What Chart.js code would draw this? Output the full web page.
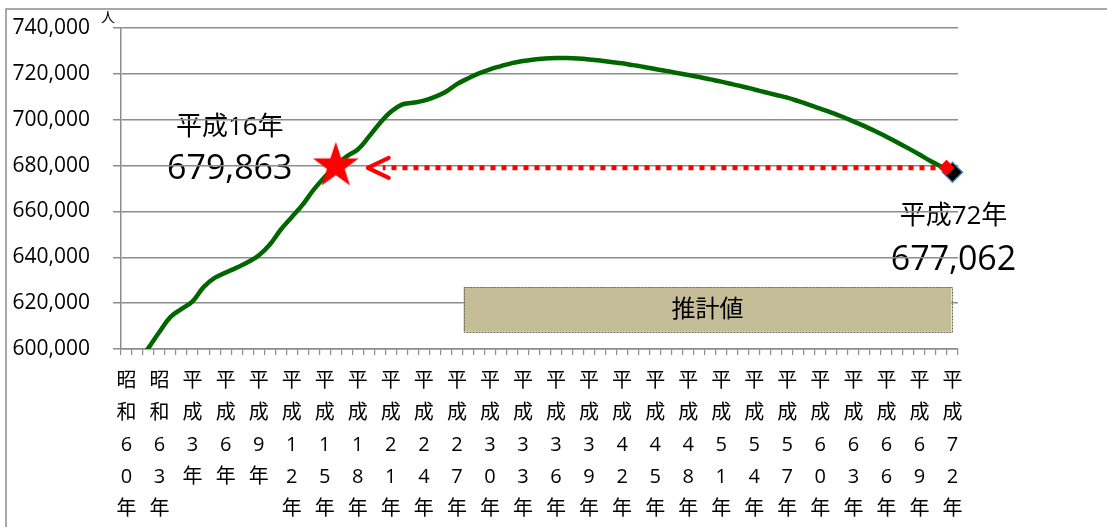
<!DOCTYPE html>
<html><head><meta charset="utf-8">
<script src="https://cdn.jsdelivr.net/npm/chart.js@4.4.1/dist/chart.umd.min.js"></script>
<style>html,body{margin:0;padding:0;background:#fff;overflow:hidden}canvas{display:block}</style>
</head><body>
<canvas id="c" width="1107" height="527"></canvas>
<script>
// ---- data ----
const categories = [
 '昭和60年','昭和61年','昭和62年','昭和63年','平成元年','平成2年','平成3年','平成4年','平成5年','平成6年',
 '平成7年','平成8年','平成9年','平成10年','平成11年','平成12年','平成13年','平成14年','平成15年','平成16年',
 '平成17年','平成18年','平成19年','平成20年','平成21年','平成22年','平成23年','平成24年','平成25年','平成26年',
 '平成27年','平成28年','平成29年','平成30年','平成31年','平成32年','平成33年','平成34年','平成35年','平成36年',
 '平成37年','平成38年','平成39年','平成40年','平成41年','平成42年','平成43年','平成44年','平成45年','平成46年',
 '平成47年','平成48年','平成49年','平成50年','平成51年','平成52年','平成53年','平成54年','平成55年','平成56年',
 '平成57年','平成58年','平成59年','平成60年','平成61年','平成62年','平成63年','平成64年','平成65年','平成66年',
 '平成67年','平成68年','平成69年','平成70年','平成71年','平成72年'
];
const population = [
 588000,594000,600500,607500,614000,617500,620800,627000,631000,633300,
 635500,637800,640800,645500,652000,657500,663000,669500,675000,679863,
 684000,687000,692500,698500,703500,706600,707400,708300,710000,712200,
 715500,718000,720200,722000,723400,724700,725600,726300,726700,726900,
 726900,726700,726300,725800,725200,724600,723800,723000,722100,721300,
 720400,719500,718600,717600,716600,715500,714400,713200,712000,710800,
 709600,708100,706500,704800,703100,701300,699300,697200,695000,692600,
 690100,687500,684800,682000,679500,677062
];
const yTicks = [600000,620000,640000,660000,680000,700000,720000,740000];
const tickEvery = 3;
const unitLabel = '人';
const baseMark = {index: 19, value: 679863, year: '平成16年', text: '679,863'};
const endMark  = {index: 75, value: 677062, year: '平成72年', text: '677,062'};
const arrowValue = 679000;
const estimateLabel = '推計値';
const estimateBox = {from: 30.6, to: 74.9, top: 627000, bottom: 607500};

// ---- styling ----
const FONT = "'Open Sans','Noto Sans CJK JP',sans-serif";
const GRID = '#8c8c8c';
Chart.defaults.font.family = FONT;
Chart.defaults.color = '#000';

function makeStar(R){
  const c = document.createElement('canvas');
  c.width = c.height = 2*R + 2;
  const g = c.getContext('2d');
  g.fillStyle = '#ff0000';
  g.beginPath();
  for (let k = 0; k < 10; k++) {
    const r = k % 2 ? R*0.39 : R;
    const a = -Math.PI/2 + k*Math.PI/5;
    g.lineTo(R+1 + r*Math.cos(a), R+1 + r*Math.sin(a));
  }
  g.closePath(); g.fill();
  return c;
}
const starImg = makeStar(24);

const lastIdx = population.length - 1;

const decor = {
  id: 'decor',
  beforeDraw(chart){
    const {ctx, scales:{x, y}, chartArea} = chart;
    ctx.save();
    // outer frame
    ctx.strokeStyle = GRID; ctx.lineWidth = 1.5;
    ctx.strokeRect(6, 9, 1300, 700);
    // unit
    ctx.fillStyle = '#000'; ctx.textAlign = 'center'; ctx.textBaseline = 'middle';
    ctx.font = '14px ' + FONT;
    ctx.fillText(unitLabel, chartArea.left - 13, chartArea.top - 10);
    // annotations
    const bx = x.getPixelForValue(baseMark.index) - 106;
    const by = y.getPixelForValue(baseMark.value);
    ctx.font = '26px ' + FONT;
    ctx.fillText(baseMark.year, bx, by - 38);
    ctx.font = '34px ' + FONT;
    ctx.fillText(baseMark.text, bx, by + 3);
    const ex = x.getPixelForValue(endMark.index) + 1;
    const ey = y.getPixelForValue(endMark.value);
    ctx.font = '26px ' + FONT;
    ctx.fillText(endMark.year, ex, ey + 44);
    ctx.font = '34px ' + FONT;
    ctx.fillText(endMark.text, ex, ey + 88);
    ctx.restore();
  },
  afterDatasetsDraw(chart){
    const {ctx, scales:{x, y}} = chart;
    ctx.save();
    // estimate box
    const l = x.getPixelForValue(estimateBox.from), r = x.getPixelForValue(estimateBox.to);
    const t = y.getPixelForValue(estimateBox.top), b = y.getPixelForValue(estimateBox.bottom);
    ctx.fillStyle = '#c4bd97';
    ctx.fillRect(l, t, r - l, b - t);
    ctx.strokeStyle = '#6b6650'; ctx.lineWidth = 1; ctx.setLineDash([2,1]);
    ctx.strokeRect(Math.round(l)+0.5, Math.round(t)+0.5, Math.round(r-l), Math.round(b-t));
    ctx.setLineDash([]);
    ctx.fillStyle = '#000'; ctx.font = '24px ' + FONT;
    ctx.textAlign = 'center'; ctx.textBaseline = 'middle';
    ctx.fillText(estimateLabel, (l + r)/2, (t + b)/2 + 1);
    // dotted arrow
    const ya = y.getPixelForValue(arrowValue);
    const xEnd = x.getPixelForValue(endMark.index) - 6;
    const xTip = x.getPixelForValue(baseMark.index) + 32;
    ctx.strokeStyle = '#ff0000'; ctx.lineWidth = 5; ctx.setLineDash([5,6]);
    ctx.beginPath(); ctx.moveTo(xEnd, ya); ctx.lineTo(xTip + 15, ya); ctx.stroke();
    ctx.setLineDash([]); ctx.lineWidth = 4; ctx.lineCap = 'round'; ctx.lineJoin = 'round';
    ctx.beginPath(); ctx.moveTo(xTip + 21, ya - 10); ctx.lineTo(xTip, ya); ctx.lineTo(xTip + 21, ya + 10); ctx.stroke();
    // red diamond at arrow tail
    ctx.fillStyle = '#ff0000';
    ctx.beginPath();
    ctx.moveTo(xEnd, ya - 8); ctx.lineTo(xEnd + 8, ya); ctx.lineTo(xEnd, ya + 8); ctx.lineTo(xEnd - 8, ya);
    ctx.closePath(); ctx.fill();
    ctx.restore();
  }
};

new Chart(document.getElementById('c'), {
  type: 'line',
  data: {
    labels: categories,
    datasets: [
      {
        data: population,
        borderColor: '#006600',
        borderWidth: 4.5,
        tension: 0.4,
        fill: false,
        pointRadius: population.map((_, i) => i === lastIdx ? 10 : 0),
        pointStyle: 'rectRot',
        pointBackgroundColor: '#000',
        pointBorderColor: '#4f81bd',
        pointBorderWidth: 1.5,
        clip: {left: 0, top: 10, right: 20, bottom: 0},
        order: 2
      },
      {
        data: categories.map((_, i) => i === baseMark.index ? baseMark.value : null),
        showLine: false,
        pointStyle: starImg,
        pointRadius: 24,
        clip: false,
        order: 1
      }
    ]
  },
  options: {
    responsive: false,
    animation: false,
    devicePixelRatio: 1,
    events: [],
    layout: {padding: {top: 28, right: 149, left: 0, bottom: 0}},
    plugins: {legend: {display: false}, tooltip: {enabled: false}},
    scales: {
      x: {
        type: 'category',
        offset: true,
        grid: {offset: true, drawOnChartArea: false, drawTicks: true, tickLength: 6, color: GRID, lineWidth: 1.2},
        border: {display: true, color: GRID, width: 1.5},
        ticks: {
          autoSkip: false, maxRotation: 0, minRotation: 0, padding: 10,
          font: {size: 20, lineHeight: 1.6},
          callback: (v, i) => i % tickEvery === 0 ? categories[i].split('') : ''
        },
        afterFit: s => { s.height = 178; s.paddingLeft = 0; s.paddingRight = 0; }
      },
      y: {
        min: yTicks[0], max: yTicks[yTicks.length - 1],
        afterBuildTicks: s => { s.ticks = yTicks.map(v => ({value: v})); },
        grid: {color: GRID, lineWidth: 1.5, tickLength: 8},
        border: {display: true, color: GRID, width: 1.5},
        ticks: {
          padding: 23,
          font: {size: 21},
          callback: v => Number(v).toLocaleString('en-US')
        },
        afterFit: s => { s.width = 121; s.paddingTop = 0; s.paddingBottom = 0; }
      }
    }
  },
  plugins: [decor]
});
</script>
</body></html>
